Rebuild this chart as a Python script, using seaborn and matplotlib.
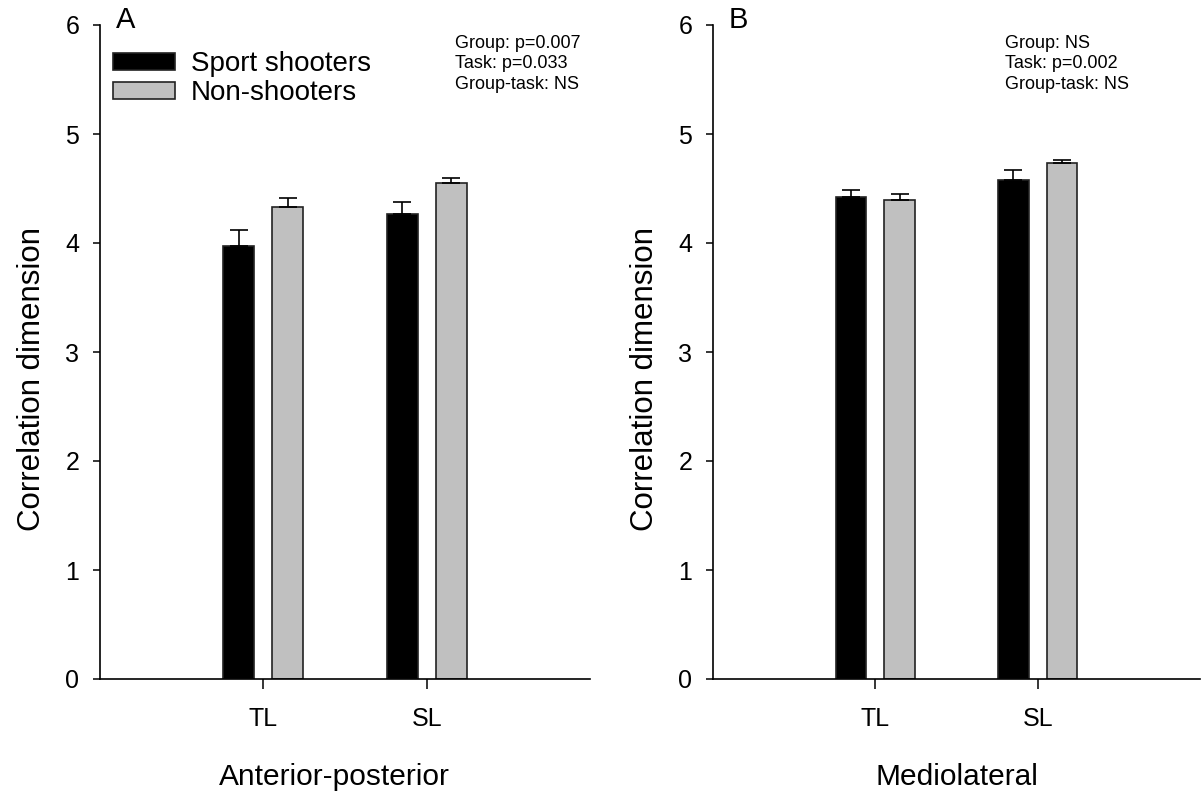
import matplotlib
matplotlib.use("Agg")
import matplotlib.pyplot as plt
import seaborn as sns
import pandas as pd
from matplotlib.patches import Patch

sns.set_theme(style="ticks")
plt.rcParams['font.family'] = ['Liberation Sans', 'DejaVu Sans']
for key in ["text.color", "axes.labelcolor", "xtick.color", "ytick.color", "axes.edgecolor"]:
    plt.rcParams[key] = "black"

tasks = ["TL", "SL"]
groups = ["Sport shooters", "Non-shooters"]
# Anterior-posterior (panel A)
ap_shooters = [3.97, 4.27]
ap_shooters_err = [0.15, 0.11]
ap_non = [4.33, 4.55]
ap_non_err = [0.08, 0.05]
# Mediolateral (panel B)
ml_shooters = [4.42, 4.58]
ml_shooters_err = [0.07, 0.09]
ml_non = [4.39, 4.73]
ml_non_err = [0.06, 0.03]

panels = [
    ("A", "Anterior-posterior", ap_shooters, ap_shooters_err, ap_non, ap_non_err,
     "Group: p=0.007\nTask: p=0.033\nGroup-task: NS", 0.725, 0.478),
    ("B", "Mediolateral", ml_shooters, ml_shooters_err, ml_non, ml_non_err,
     "Group: NS\nTask: p=0.002\nGroup-task: NS", 0.60, 0.5),
]

colors = {"Sport shooters": "#000000", "Non-shooters": "#C0C0C0"}

fig = plt.figure(figsize=(12.01, 7.94), dpi=100)
axes = [fig.add_axes([100/1201, 1-679/794, 490/1201, 654/794]),
        fig.add_axes([713/1201, 1-679/794, 487/1201, 654/794])]

for ax, (letter, xlabel, s_vals, s_err, n_vals, n_err, note, nx, xlx) in zip(axes, panels):
    df = pd.DataFrame({
        "task": tasks * 2,
        "group": [groups[0]] * 2 + [groups[1]] * 2,
        "value": s_vals + n_vals,
    })
    sns.barplot(data=df, x="task", y="value", hue="group", order=tasks,
                hue_order=groups, palette=colors, errorbar=None, width=0.6,
                gap=0.37, edgecolor="#222222", linewidth=1.2, ax=ax, legend=False)
    errs = [s_err, n_err]
    for cont, err in zip(ax.containers, errs):
        xs = [p.get_x() + p.get_width() / 2 for p in cont.patches]
        ys = [p.get_height() for p in cont.patches]
        ax.errorbar(xs, ys, yerr=[[0] * len(err), err], fmt="none",
                    ecolor="black", elinewidth=1.2, capsize=6.5, capthick=1.2)
    ax.set_xlim(-1, 2)
    ax.set_ylim(0, 6)
    ax.set_yticks(range(0, 7))
    ax.set_ylabel("Correlation dimension", fontsize=22.5)
    ax.yaxis.set_label_coords(-0.108, 0.459)
    ax.set_xlabel(xlabel, fontsize=21.5)
    ax.xaxis.set_label_coords(xlx, -0.128)
    ax.tick_params(axis="x", labelsize=18, length=7, width=1.1, pad=13, direction="out")
    ax.tick_params(axis="y", labelsize=18, length=5, width=1.1, pad=10, direction="out")
    sns.despine(ax=ax)
    for sp in ax.spines.values():
        sp.set_linewidth(1.2)
    ax.text(0.033, 1.008, letter, transform=ax.transAxes, fontsize=21,
            ha="left", va="center")
    ax.text(nx, 0.985, note, transform=ax.transAxes, fontsize=13,
            ha="left", va="top", linespacing=1.27)

handles = [Patch(facecolor=colors[g], edgecolor="#222222", linewidth=1.2, label=g) for g in groups]
axes[0].legend(handles=handles, loc="upper left", bbox_to_anchor=(-0.002, 0.981),
               frameon=False, fontsize=20, handlelength=2.25, handleheight=0.55,
               labelspacing=0.1, handletextpad=0.55, borderaxespad=0.1)

fig.savefig("out.png", dpi=100)
